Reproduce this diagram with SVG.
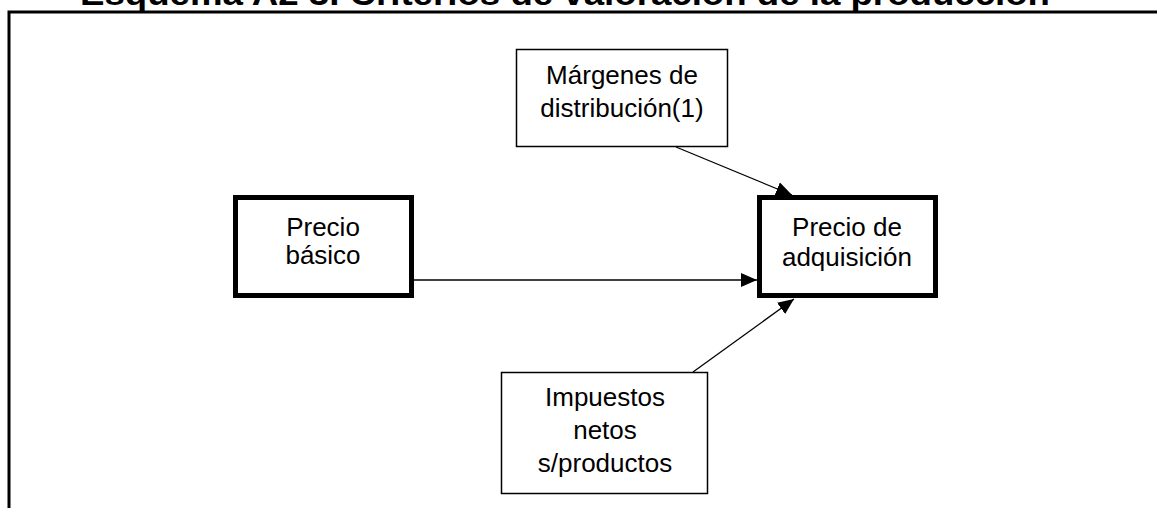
<svg xmlns="http://www.w3.org/2000/svg" width="1157" height="508" viewBox="0 0 1157 508">
<style>
.t{font-family:"Liberation Sans",Arial,sans-serif;font-size:26px;fill:#000;text-anchor:middle}
.title{font-family:"Liberation Sans",Arial,sans-serif;font-size:34px;font-weight:bold;fill:#000}
.thin{fill:#fff;stroke:#000;stroke-width:1.5}
.thick{fill:#fff;stroke:#000;stroke-width:5}
.c{stroke:#000;stroke-width:1.3;fill:none;marker-end:url(#ah)}
</style>
<defs>
<marker id="ah" viewBox="0 0 16 14" refX="16" refY="7" markerWidth="16" markerHeight="14" markerUnits="userSpaceOnUse" orient="auto">
<path d="M0,0 L16,7 L0,14 Z" fill="#000"/>
</marker>
</defs>
<rect width="1157" height="508" fill="#fff"/>
<text class="title" x="80" y="5" textLength="970" lengthAdjust="spacingAndGlyphs">Esquema A2 3. Criterios de valoración de la producción</text>
<path d="M9,508 V12 H1157" fill="none" stroke="#000" stroke-width="3"/>
<g id="connectors">
<line class="c" x1="676" y1="147" x2="792" y2="195"/>
<line class="c" x1="414" y1="280" x2="757" y2="280"/>
<line class="c" x1="693" y1="372" x2="794" y2="299"/>
</g>
<g id="n-margenes">
<rect class="thin" x="516.5" y="49.5" width="211" height="97"/>
<text class="t" x="622" y="84">Márgenes de</text>
<text class="t" x="622" y="117">distribución(1)</text>
</g>
<g id="n-basico">
<rect class="thick" x="235.5" y="197.5" width="176" height="98"/>
<text class="t" x="323" y="236">Precio</text>
<text class="t" x="323" y="264">básico</text>
</g>
<g id="n-adquisicion">
<rect class="thick" x="759.5" y="197.5" width="176" height="98"/>
<text class="t" x="847" y="236">Precio de</text>
<text class="t" x="847" y="266">adquisición</text>
</g>
<g id="n-impuestos">
<rect class="thin" x="501.5" y="372.5" width="206" height="121"/>
<text class="t" x="605" y="406">Impuestos</text>
<text class="t" x="605" y="439">netos</text>
<text class="t" x="605" y="472">s/productos</text>
</g>
</svg>
